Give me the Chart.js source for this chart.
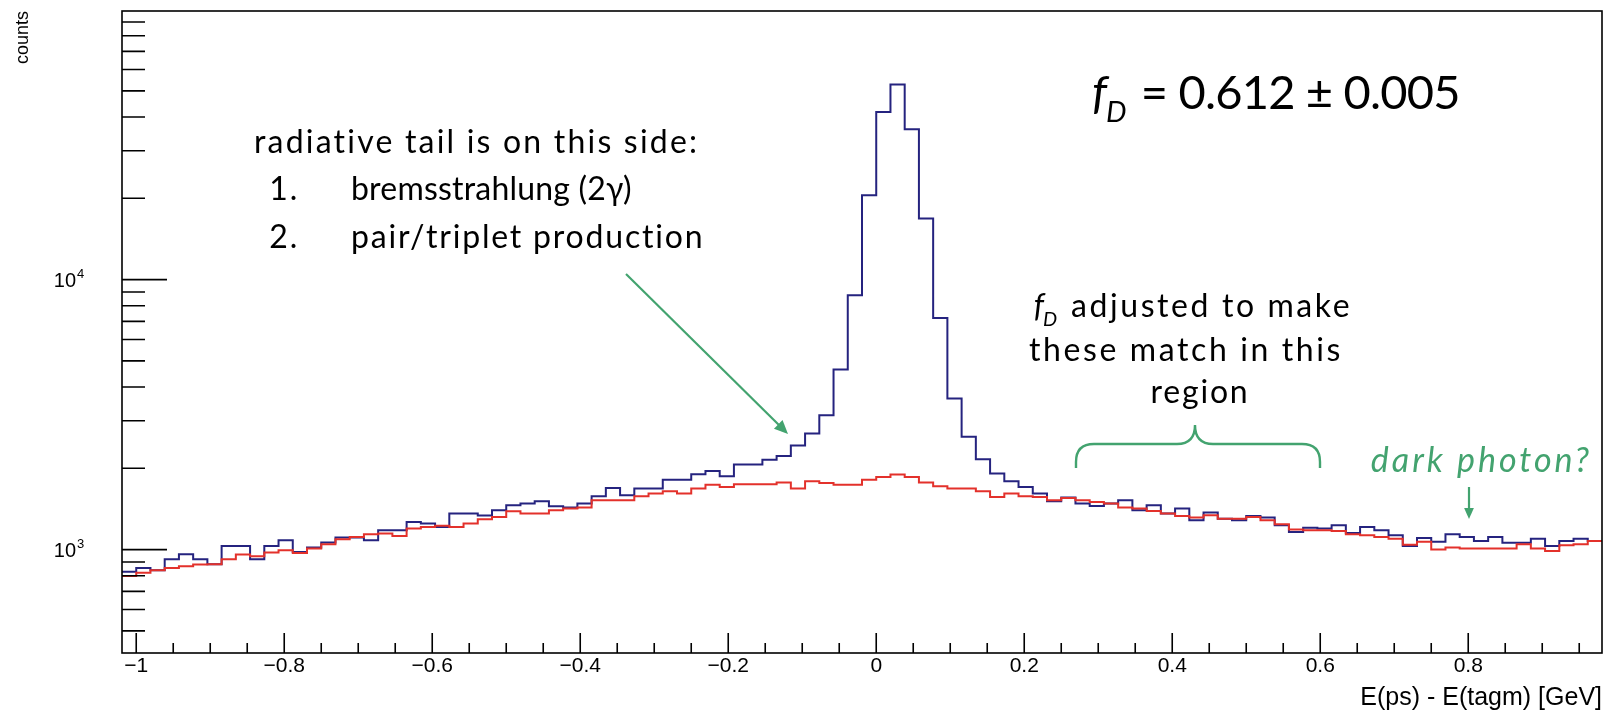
<!DOCTYPE html>
<html>
<head>
<meta charset="utf-8">
<title>E(ps) - E(tagm)</title>
<script src="https://cdn.jsdelivr.net/npm/chart.js@4.4.1/dist/chart.umd.min.js"></script>
<style>
  html, body { margin: 0; padding: 0; background: #fff; }
  #wrap { position: relative; width: 1604px; height: 711px; }
</style>
</head>
<body>
<div id="wrap"><canvas id="spectrum"></canvas></div>
<script>
// 104 bins of 2/104 GeV starting at -1.01923
const binLow = -1.01923;
const binWidth = 2 / 104;

// pair spectrometer minus tagger energy, all events
const measuredCounts = [
  827, 855, 838, 921, 961, 921, 882, 1032, 1032, 921,
  1032, 1083, 980, 1017, 1062, 1108, 1108, 1083, 1179, 1179,
  1266, 1248, 1213, 1360, 1360, 1336, 1398, 1459, 1480, 1510,
  1447, 1431, 1480, 1576, 1692, 1589, 1682, 1682, 1816, 1816,
  1901, 1956, 1869, 2064, 2064, 2150, 2220, 2430, 2690, 3145,
  4642, 8750, 20530, 41780, 52760, 36050, 16820, 7211, 3625, 2620,
  2160, 1912, 1791, 1706, 1612, 1510, 1558, 1480, 1451, 1480,
  1523, 1398, 1459, 1360, 1419, 1284, 1371, 1302, 1284, 1332,
  1314, 1230, 1163, 1206, 1196, 1230, 1153, 1213, 1179, 1130,
  1032, 1105, 1068, 1140, 1114, 1077, 1114, 1059, 1059, 1098,
  1032, 1077, 1098, 1077
];

// accidental background scaled by f_D
const scaledCounts = [
  799, 820, 838, 855, 868, 880, 882, 921, 958, 945,
  975, 994, 972, 1009, 1046, 1092, 1114, 1140, 1146, 1124,
  1196, 1213, 1225, 1213, 1248, 1295, 1321, 1387, 1360, 1360,
  1398, 1419, 1431, 1523, 1523, 1523, 1576, 1612, 1644, 1612,
  1682, 1740, 1706, 1746, 1746, 1746, 1771, 1682, 1791, 1766,
  1740, 1740, 1816, 1858, 1896, 1858, 1771, 1716, 1682, 1682,
  1644, 1567, 1612, 1576, 1567, 1523, 1553, 1523, 1501, 1480,
  1431, 1419, 1391, 1360, 1332, 1314, 1340, 1302, 1302, 1321,
  1284, 1241, 1186, 1179, 1179, 1172, 1140, 1130, 1114, 1098,
  1043, 1068, 1000, 1017, 1009, 1009, 1009, 1009, 1046, 1009,
  989, 1038, 1046, 1077
];

const xTickValues = [-1, -0.8, -0.6, -0.4, -0.2, 0, 0.2, 0.4, 0.6, 0.8];
const yTickValues = [1000, 10000];
const yRange = [414, 98800];

const NAVY = '#25237f';
const RED = '#e3312b';
const GREEN = '#43a36f';
const ROOT_FONT = '"Liberation Sans", Arial, sans-serif';
const NOTE_FONT = 'Lato, "Open Sans", sans-serif';

// step points: one per left bin edge plus the closing right edge
function histPoints(counts) {
  const pts = counts.map((c, i) => ({ x: binLow + i * binWidth, y: c }));
  pts.push({ x: binLow + counts.length * binWidth, y: counts[counts.length - 1] });
  return pts;
}

function fmtX(v) {
  return v < 0 ? '\u2212' + String(-v) : String(v);
}

function arrow(ctx, x1, y1, x2, y2, head) {
  const ang = Math.atan2(y2 - y1, x2 - x1);
  ctx.beginPath();
  ctx.moveTo(x1, y1);
  ctx.lineTo(x2 - Math.cos(ang) * head * 0.8, y2 - Math.sin(ang) * head * 0.8);
  ctx.stroke();
  ctx.beginPath();
  ctx.moveTo(x2, y2);
  ctx.lineTo(x2 - head * Math.cos(ang - 0.42), y2 - head * Math.sin(ang - 0.42));
  ctx.lineTo(x2 - head * Math.cos(ang + 0.42), y2 - head * Math.sin(ang + 0.42));
  ctx.closePath();
  ctx.fill();
}

function setNote(ctx, size, italic, spacing) {
  ctx.font = (italic ? 'italic ' : '') + size + 'px ' + NOTE_FONT;
  ctx.letterSpacing = spacing + 'px';
}

// text with an italic f and subscript D in front
function fdText(ctx, x, y, size, rest, align, spacing) {
  setNote(ctx, size, true, 0);
  const wf = ctx.measureText('f').width;
  setNote(ctx, Math.round(size * 0.62), true, 0);
  const wd = ctx.measureText('D').width;
  setNote(ctx, size, false, spacing);
  const wr = ctx.measureText(rest).width;
  const total = wf + 2 + wd + wr;
  const x0 = align === 'center' ? x - total / 2 : x;
  ctx.textAlign = 'left';
  setNote(ctx, size, true, 0);
  ctx.fillText('f', x0, y);
  setNote(ctx, Math.round(size * 0.62), true, 0);
  ctx.fillText('D', x0 + wf - 1, y + size * 0.28);
  setNote(ctx, size, false, spacing);
  ctx.fillText(rest, x0 + wf + 2 + wd, y);
}

const rootFrame = {
  id: 'rootFrame',
  afterDatasetsDraw(chart) {
    const { ctx, chartArea: a, scales: { x, y } } = chart;
    ctx.save();
    ctx.strokeStyle = '#000';
    ctx.lineWidth = 1.6;
    ctx.strokeRect(a.left, a.top, a.right - a.left, a.bottom - a.top);

    // x ticks every 0.05, long ones at the labels
    ctx.beginPath();
    for (let k = -20; k <= 19; k++) {
      const px = x.getPixelForValue(k * 0.05);
      const len = k % 4 === 0 ? 20 : 10;
      ctx.moveTo(px, a.bottom);
      ctx.lineTo(px, a.bottom - len);
    }
    // y ticks on the log axis
    for (const decade of [100, 1000, 10000]) {
      for (let m = 1; m <= 9; m++) {
        const v = m * decade;
        if (v < y.min || v > y.max) continue;
        const py = y.getPixelForValue(v);
        ctx.moveTo(a.left, py);
        ctx.lineTo(a.left + (m === 1 ? 45 : 23), py);
      }
    }
    ctx.stroke();

    // decade labels as 10 with a raised exponent
    ctx.fillStyle = '#000';
    ctx.textBaseline = 'alphabetic';
    for (const v of yTickValues) {
      const py = y.getPixelForValue(v);
      ctx.font = '20px ' + ROOT_FONT;
      ctx.textAlign = 'right';
      ctx.fillText('10', 76, py + 7);
      ctx.font = '13px ' + ROOT_FONT;
      ctx.textAlign = 'left';
      ctx.fillText(String(Math.round(Math.log10(v))), 77, py - 2);
    }

    // axis titles
    ctx.font = '25px ' + ROOT_FONT;
    ctx.textAlign = 'right';
    ctx.fillText('E(ps) - E(tagm) [GeV]', a.right, 705);
    ctx.save();
    ctx.translate(28, a.top);
    ctx.rotate(-Math.PI / 2);
    ctx.font = '18px ' + ROOT_FONT;
    ctx.textAlign = 'right';
    ctx.fillText('counts', 0, 0);
    ctx.restore();
    ctx.restore();
  },
  afterDraw(chart) {
    const ctx = chart.ctx;
    ctx.save();
    ctx.fillStyle = '#000';
    ctx.textBaseline = 'alphabetic';

    fdText(ctx, 1092, 109, 47, ' = 0.612 \u00b1 0.005', 'left', -0.8);

    setNote(ctx, 32, false, 2.2);
    ctx.textAlign = 'left';
    ctx.fillText('radiative tail is on this side:', 254, 153);
    setNote(ctx, 32, false, 1.8);
    ctx.textAlign = 'right';
    ctx.fillText('1.', 299, 200);
    ctx.fillText('2.', 299, 248);
    ctx.textAlign = 'left';
    setNote(ctx, 32, false, 0.2);
    ctx.fillText('bremsstrahlung (2\u03b3)', 351, 200);
    setNote(ctx, 32, false, 1.8);
    ctx.fillText('pair/triplet production', 351, 248);

    fdText(ctx, 1193, 317, 32, ' adjusted to make', 'center', 2.6);
    setNote(ctx, 32, false, 2.6);
    ctx.textAlign = 'center';
    ctx.fillText('these match in this', 1186, 361);
    setNote(ctx, 32, false, 1.8);
    ctx.fillText('region', 1200, 403);

    ctx.fillStyle = GREEN;
    ctx.strokeStyle = GREEN;
    ctx.letterSpacing = '0px';
    ctx.lineWidth = 2.2;
    arrow(ctx, 626, 274, 788, 434, 15);
    arrow(ctx, 1469, 487, 1469, 519, 12);

    // brace over the matching region
    ctx.lineWidth = 2.4;
    ctx.beginPath();
    ctx.moveTo(1076, 468);
    ctx.lineTo(1076, 462);
    ctx.quadraticCurveTo(1076, 444, 1094, 444);
    ctx.lineTo(1177, 444);
    ctx.quadraticCurveTo(1195, 444, 1195, 425);
    ctx.quadraticCurveTo(1195, 444, 1213, 444);
    ctx.lineTo(1302, 444);
    ctx.quadraticCurveTo(1320, 444, 1320, 462);
    ctx.lineTo(1320, 468);
    ctx.stroke();

    setNote(ctx, 34, true, 3);
    ctx.textAlign = 'right';
    ctx.fillText('dark photon?', 1592, 472);
    ctx.restore();
  }
};

new Chart(document.getElementById('spectrum'), {
  type: 'line',
  data: {
    datasets: [
      {
        label: 'f_D x accidentals',
        data: histPoints(scaledCounts),
        borderColor: RED,
        borderWidth: 2,
        stepped: 'before',
        pointRadius: 0,
        fill: false
      },
      {
        label: 'all',
        data: histPoints(measuredCounts),
        borderColor: NAVY,
        borderWidth: 2,
        stepped: 'before',
        pointRadius: 0,
        fill: false
      }
    ]
  },
  options: {
    responsive: true,
    maintainAspectRatio: false,
    animation: false,
    layout: { autoPadding: false, padding: { top: 11, right: 2, left: 0, bottom: 0 } },
    plugins: {
      legend: { display: false },
      tooltip: { enabled: false }
    },
    scales: {
      x: {
        type: 'linear',
        min: binLow,
        max: binLow + measuredCounts.length * binWidth,
        grid: { display: false, drawTicks: false },
        border: { display: false },
        afterBuildTicks: s => { s.ticks = xTickValues.map(v => ({ value: v })); },
        afterFit: s => { s.height = 58; },
        ticks: {
          autoSkip: false,
          maxRotation: 0,
          minRotation: 0,
          padding: 1,
          color: '#000',
          font: { family: ROOT_FONT, size: 21 },
          callback: v => fmtX(v)
        }
      },
      y: {
        type: 'logarithmic',
        min: yRange[0],
        max: yRange[1],
        grid: { display: false, drawTicks: false },
        border: { display: false },
        afterBuildTicks: s => { s.ticks = yTickValues.map(v => ({ value: v })); },
        afterFit: s => { s.width = 122; },
        ticks: { display: false }
      }
    }
  },
  plugins: [rootFrame]
});
</script>
</body>
</html>
